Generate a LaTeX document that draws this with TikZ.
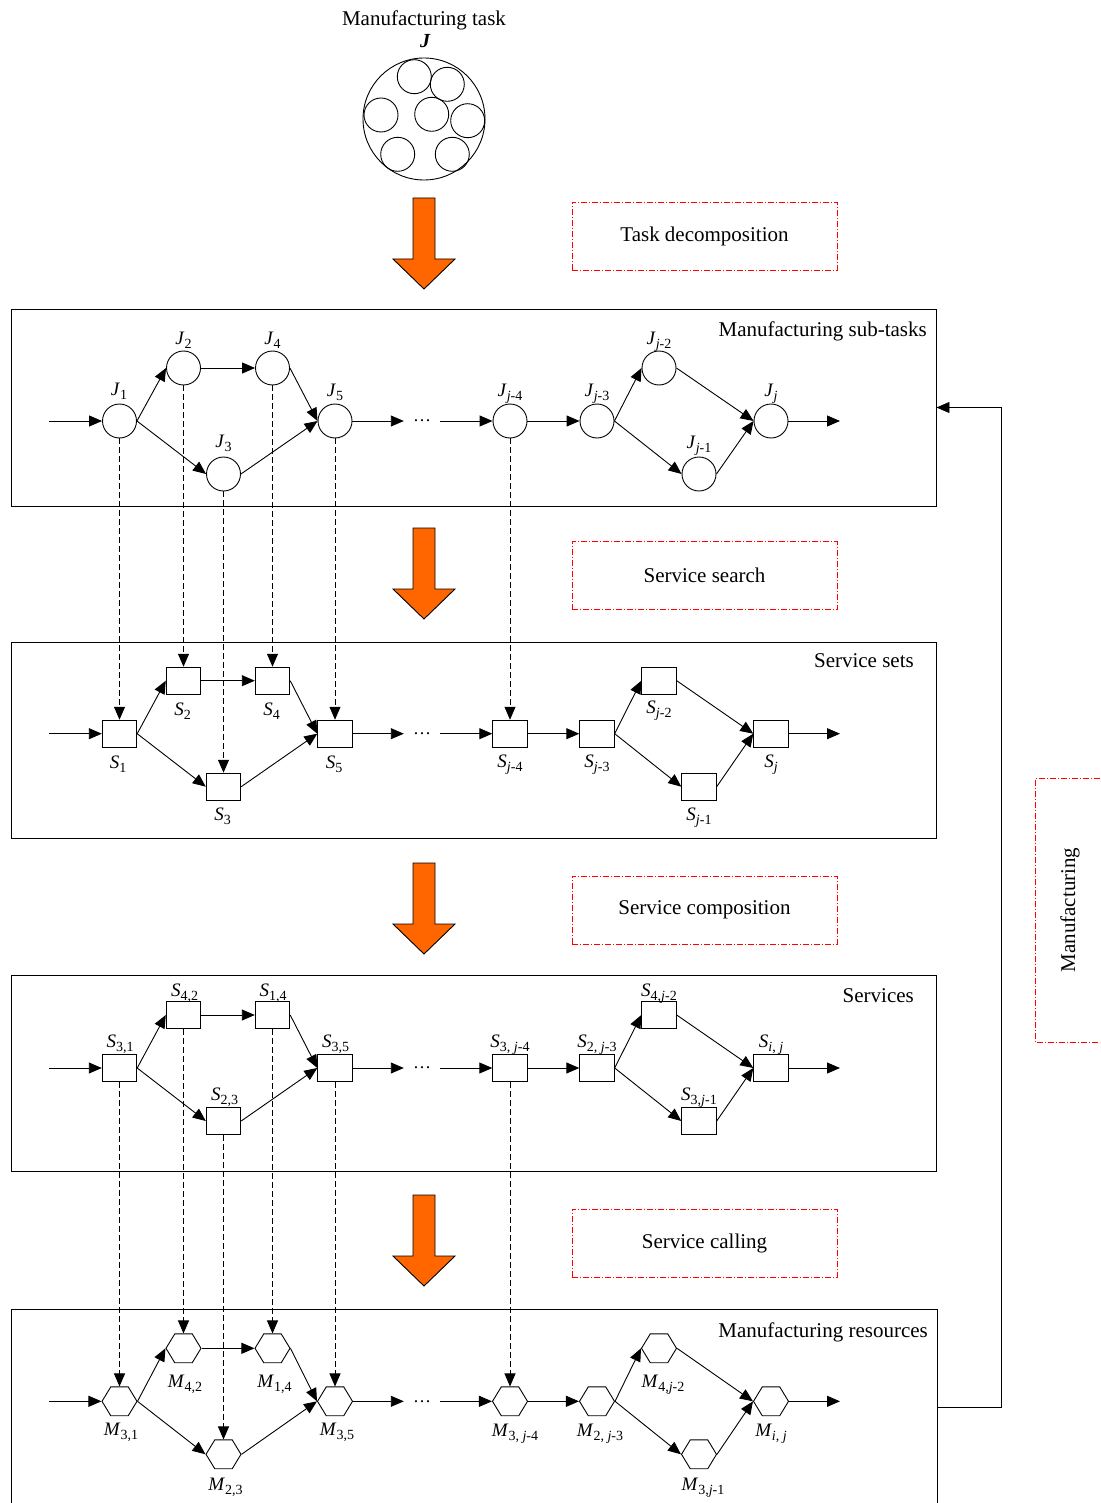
\documentclass[tikz,border=0pt]{standalone}
\usepackage{fontspec}
\setmainfont{Liberation Serif}
\usetikzlibrary{arrows.meta,shapes.geometric}
\definecolor{orng}{HTML}{FF6600}
\newcommand\lb[2]{\textit{#1}\raisebox{-4pt}{\fontsize{14}{14}\selectfont #2}}
\begin{document}
\begin{tikzpicture}[x=1pt,y=-1pt,
 jn/.style={circle,draw,minimum size=34pt,inner sep=0pt,line width=0.9pt},
 sn/.style={rectangle,draw,minimum width=34.5pt,minimum height=27pt,inner sep=0pt,line width=0.9pt},
 mn/.style={regular polygon,regular polygon sides=6,draw,minimum size=35pt,inner sep=0pt,line width=0.9pt,yscale=0.95},
 lab/.style={font=\fontsize{19}{21}\selectfont,inner sep=0pt,anchor=base},
 ttl/.style={font=\fontsize{21}{24}\selectfont,inner sep=0pt},
 arr/.style={line width=0.9pt,-{Triangle[length=13pt,width=11pt]}},
 dsh/.style={dash pattern=on 6pt off 3pt},
 reddash/.style={draw=red,dash pattern=on 6pt off 2pt on 1pt off 2pt,line width=0.8pt},
 redbox/.style={reddash,minimum width=265pt,minimum height=68pt,font=\fontsize{21}{24}\selectfont},
 panel/.style={draw,line width=0.9pt,minimum width=925pt,minimum height=196pt,inner sep=0pt},
 dotsn/.style={minimum width=36pt,inner sep=0pt,font=\fontsize{18}{20}\selectfont},
 bigdown/.pic={\draw[fill=orng,line width=0.9pt] (-11,0) -- (11,0) -- (11,61) -- (31,61) -- (0,91) -- (-31,61) -- (-11,61) -- cycle;}
]
\useasboundingbox (0,0) rectangle (1100,1503);

% top task
\node[ttl,anchor=base] (mt) at (424,26) {Manufacturing task};
\node[font=\fontsize{20}{22}\selectfont\bfseries\itshape,anchor=base,inner sep=0pt] (Jt) at (425,48) {J};
\node[circle,draw,minimum size=122pt,inner sep=0pt,line width=0.9pt] (big) at (424,119) {};
\foreach \n/\px/\py in {a/414.3/76.7, b/447.3/84.3, c/381/115, d/431.7/114.3, e/467.7/120.7, f/397.7/154.3, g/452.3/154.3}
  \node[jn] (c\n) at (\px,\py) {};

% orange arrows
\pic at (424,198) {bigdown};
\pic at (424,528) {bigdown};
\pic at (424,863) {bigdown};
\pic at (424,1195) {bigdown};

% red boxes
\node[redbox] (R1) at (704.5,236.5) {Task decomposition};
\node[redbox] (R2) at (704.5,575.5) {Service search};
\node[redbox] (R3) at (704.5,910) {Service composition};
\node[redbox] (R4) at (704.5,1243) {Service calling};
\draw[reddash] (1100,778) -- (1035.5,778) -- (1035.5,1042) -- (1100,1042);
\node[ttl,rotate=90] (mf) at (1070,910) {Manufacturing};

% panels
\node[panel,minimum height=197pt] (P1) at (473.5,407.5) {};
\node[panel] (P2) at (473.5,740) {};
\node[panel] (P3) at (473.5,1073) {};
\draw[line width=0.9pt] (11,1505) -- (11,1309) -- (937,1309) -- (937,1505);
\node[ttl,anchor=base east] (t1) at (927,336) {Manufacturing sub-tasks};
\node[ttl,anchor=base east] (t2) at (914,667) {Service sets};
\node[ttl,anchor=base east] (t3) at (914,1002) {Services};
\node[ttl,anchor=base east] (t4) at (928,1337) {Manufacturing resources};

% feedback
\coordinate (fb) at (937,1407);
\draw[arr] (fb) -- ++(64,0) |- (P1.east);

% the four networks
\foreach \p/\y/\sh in {J/421/jn, S/733.7/sn, T/1068/sn, M/1401.3/mn}{
  \node[\sh] (\p1) at (119.5,\y) {};
  \node[\sh] (\p2) at (183.5,\y-53) {};
  \node[\sh] (\p3) at (223.5,\y+53) {};
  \node[\sh] (\p4) at (272.5,\y-53) {};
  \node[\sh] (\p5) at (335,\y) {};
  \node[dotsn] (\p D) at (422,\y) {…};
  \node[\sh] (\p a) at (510,\y) {};
  \node[\sh] (\p b) at (597,\y) {};
  \node[\sh] (\p c) at (659,\y-53) {};
  \node[\sh] (\p d) at (699,\y+53) {};
  \node[\sh] (\p e) at (771,\y) {};
  \coordinate (\p in) at (49,\y);
  \coordinate (\p out) at (840,\y);
  \draw[arr] (\p in) -- (\p1.west);
  \draw[arr] (\p1.east) -- (\p2.west);
  \draw[arr] (\p1.east) -- (\p3.west);
  \draw[arr] (\p2.east) -- (\p4.west);
  \draw[arr] (\p4.east) -- (\p5.west);
  \draw[arr] (\p3.east) -- (\p5.west);
  \draw[arr] (\p5.east) -- (\p D.west);
  \draw[arr] (\p D.east) -- (\p a.west);
  \draw[arr] (\p a.east) -- (\p b.west);
  \draw[arr] (\p b.east) -- (\p c.west);
  \draw[arr] (\p b.east) -- (\p d.west);
  \draw[arr] (\p c.east) -- (\p e.west);
  \draw[arr] (\p d.east) -- (\p e.west);
  \draw[arr] (\p e.east) -- (\p out);
}

% dashed mappings
\foreach \c in {1,2,3,4,5,a}{
  \draw[dsh,arr] (J\c) -- (S\c);
  \draw[dsh,arr] (T\c) -- (M\c);
}

% labels panel 1
\node[lab] (LJ1) at (119,395) {\lb{J}{1}};
\node[lab] (LJ2) at (183.5,344) {\lb{J}{2}};
\node[lab] (LJ3) at (223.5,447) {\lb{J}{3}};
\node[lab] (LJ4) at (272.5,344) {\lb{J}{4}};
\node[lab] (LJ5) at (335,396) {\lb{J}{5}};
\node[lab] (LJa) at (510,396) {\lb{J}{\textit{j}-4}};
\node[lab] (LJb) at (597,396) {\lb{J}{\textit{j}-3}};
\node[lab] (LJc) at (659,344) {\lb{J}{\textit{j}-2}};
\node[lab] (LJd) at (699,448) {\lb{J}{\textit{j}-1}};
\node[lab] (LJe) at (771,396) {\lb{J}{\textit{j}}};
% labels panel 2
\node[lab] (LS1) at (118,768) {\lb{S}{1}};
\node[lab] (LS2) at (182.5,715) {\lb{S}{2}};
\node[lab] (LS3) at (222.5,820) {\lb{S}{3}};
\node[lab] (LS4) at (271.5,715) {\lb{S}{4}};
\node[lab] (LS5) at (334,768) {\lb{S}{5}};
\node[lab] (LSa) at (510,767) {\lb{S}{\textit{j}-4}};
\node[lab] (LSb) at (597,767) {\lb{S}{\textit{j}-3}};
\node[lab] (LSc) at (659,713) {\lb{S}{\textit{j}-2}};
\node[lab] (LSd) at (699,820) {\lb{S}{\textit{j}-1}};
\node[lab] (LSe) at (771,767) {\lb{S}{\textit{j}}};
% labels panel 3
\node[lab] (LT1) at (120,1047) {\lb{S}{3,1}};
\node[lab] (LT2) at (184.5,996) {\lb{S}{4,2}};
\node[lab] (LT3) at (224.5,1100) {\lb{S}{2,3}};
\node[lab] (LT4) at (273,996) {\lb{S}{1,4}};
\node[lab] (LT5) at (335.5,1047) {\lb{S}{3,5}};
\node[lab] (LTa) at (510,1047) {\lb{S}{3, \textit{j}-4}};
\node[lab] (LTb) at (597,1047) {\lb{S}{2, \textit{j}-3}};
\node[lab] (LTc) at (659,996) {\lb{S}{4,\textit{j}-2}};
\node[lab] (LTd) at (699,1100) {\lb{S}{3,\textit{j}-1}};
\node[lab] (LTe) at (771,1047) {\lb{S}{\textit{i}, \textit{j}}};
% labels panel 4
\node[lab] (LM1) at (121,1435) {\lb{M}{3,1}};
\node[lab] (LM2) at (185,1387) {\lb{M}{4,2}};
\node[lab] (LM3) at (225.5,1490) {\lb{M}{2,3}};
\node[lab] (LM4) at (274.5,1387) {\lb{M}{1,4}};
\node[lab] (LM5) at (337,1435) {\lb{M}{3,5}};
\node[lab] (LMa) at (515,1436) {\lb{M}{3, \textit{j}-4}};
\node[lab] (LMb) at (600,1436) {\lb{M}{2, \textit{j}-3}};
\node[lab] (LMc) at (663,1387) {\lb{M}{4,\textit{j}-2}};
\node[lab] (LMd) at (703,1490) {\lb{M}{3,\textit{j}-1}};
\node[lab] (LMe) at (771,1436) {\lb{M}{\textit{i}, \textit{j}}};
\end{tikzpicture}
\end{document}
